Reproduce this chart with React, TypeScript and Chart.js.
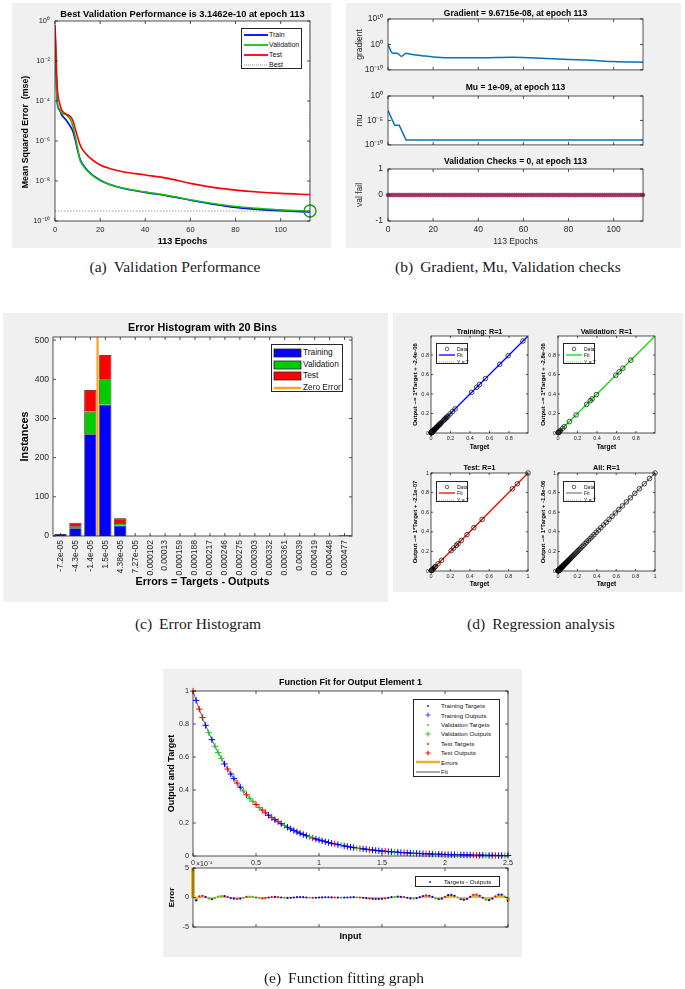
import { useEffect, useRef } from "react"
import { Chart, registerables } from "chart.js"

Chart.register(...registerables)

const SANS = "'Liberation Sans', Arial, Helvetica, sans-serif"
const SERIF = "'Liberation Serif', 'Times New Roman', serif"
const TICK = "#262626"
Chart.defaults.font.family = SANS

// (a) validation performance
const perfEpochs = [0, 1, 2, 3, 5, 7, 8, 9, 10, 11, 12, 15, 20, 25, 30, 40, 50, 60, 70, 80, 90, 100, 113]
const perfTrain = [5e-1, 8e-5, 3.5e-5, 2e-5, 1.1e-5, 5e-6, 2.9e-6, 1.1e-6, 3.5e-7, 1.35e-7, 7.6e-8, 2.9e-8, 1.1e-8, 6.3e-9, 4.3e-9, 2.7e-9, 1.8e-9, 1.1e-9, 7e-10, 4.8e-10, 3.8e-10, 3.3e-10, 2.8e-10]
const perfValidation = [5e-1, 9e-5, 4e-5, 2.5e-5, 2e-5, 1.1e-5, 5e-6, 1.6e-6, 4.5e-7, 1.2e-7, 7e-8, 2.7e-8, 1.05e-8, 6.3e-9, 4.5e-9, 2.8e-9, 1.9e-9, 1.15e-9, 7.5e-10, 5.3e-10, 4.3e-10, 3.6e-10, 3.1462e-10]
const perfTest = [6.3e-1, 5e-4, 8e-5, 3.5e-5, 2.2e-5, 1.6e-5, 1e-5, 4e-6, 1.6e-6, 7e-7, 4e-7, 1.6e-7, 6.3e-8, 4e-8, 2.9e-8, 2e-8, 1.35e-8, 7.6e-9, 4.8e-9, 3.5e-9, 2.8e-9, 2.4e-9, 2.1e-9]
const bestEpoch = 113
const bestValidation = 3.1462e-10
const perfXTicks = [0, 20, 40, 60, 80, 100]
const perfYTicks = [1e-10, 1e-8, 1e-6, 1e-4, 1e-2, 1]

// (b) gradient, mu, validation checks
const gradEpochs = [0, 2, 4, 6, 8, 10, 15, 20, 30, 40, 55, 70, 80, 90, 100, 113]
const gradValues = [0.9, 3.5e-4, 3.5e-4, 2e-5, 3.5e-4, 1.3e-4, 4e-5, 1.26e-5, 5.4e-6, 5.4e-6, 9.3e-6, 3.2e-6, 1.3e-6, 5.7e-7, 1.9e-7, 9.6715e-8]
const muEpochs = [0, 1, 2, 3, 5, 6, 7, 8, 113]
const muValues = [1e-3, 1e-4, 1e-5, 1e-6, 1e-6, 1e-7, 1e-8, 1e-9, 1e-9]
const valFailChecks = [
  0, 0, 0, 0, 0, 0, 0, 0, 0, 0,
  0, 0, 0, 0, 0, 0, 0, 0, 0, 0,
  0, 0, 0, 0, 0, 0, 0, 0, 0, 0,
  0, 0, 0, 0, 0, 0, 0, 0, 0, 0,
  0, 0, 0, 0, 0, 0, 0, 0, 0, 0,
  0, 0, 0, 0, 0, 0, 0, 0, 0, 0,
  0, 0, 0, 0, 0, 0, 0, 0, 0, 0,
  0, 0, 0, 0, 0, 0, 0, 0, 0, 0,
  0, 0, 0, 0, 0, 0, 0, 0, 0, 0,
  0, 0, 0, 0, 0, 0, 0, 0, 0, 0,
  0, 0, 0, 0, 0, 0, 0, 0, 0, 0,
  0, 0, 0, 0,
]
const gradYTicks = [1e-10, 1, 1e10]
const muYTicks = [1e-10, 1e-5, 1]
const valYTicks = [-1, 0, 1]

// (c) error histogram
const binLabels = ["-7.2e-05", "-4.3e-05", "-1.4e-05", "1.5e-05", "4.38e-05", "7.27e-05", "0.000102", "0.00013", "0.000159", "0.000188",
  "0.000217", "0.000246", "0.000275", "0.000303", "0.000332", "0.000361", "0.00039", "0.000419", "0.000448", "0.000477"]
const histTraining = [5, 20, 260, 335, 27, 0, 0, 0, 0, 0, 0, 0, 0, 0, 0, 0, 0, 0, 0, 2]
const histValidation = [0, 5, 57, 65, 6, 0, 0, 0, 0, 0, 0, 0, 0, 0, 0, 0, 0, 0, 0, 0]
const histTest = [0, 9, 56, 62, 12, 0, 0, 0, 0, 0, 0, 0, 0, 0, 0, 0, 0, 0, 0, 0]
const zeroErrorBin = 2.48
const histMax = 508
const histYTicks = [0, 100, 200, 300, 400, 500]
const binIndex = binLabels.map((_, i) => i)

// (e) function fit samples, also used by (d)
const fitInput = [
  0, 0.025, 0.05, 0.075, 0.1, 0.125, 0.15, 0.175, 0.2, 0.225,
  0.25, 0.275, 0.3, 0.325, 0.35, 0.375, 0.4, 0.425, 0.45, 0.475,
  0.5, 0.525, 0.55, 0.575, 0.6, 0.625, 0.65, 0.675, 0.7, 0.725,
  0.75, 0.775, 0.8, 0.825, 0.85, 0.875, 0.9, 0.925, 0.95, 0.975,
  1, 1.025, 1.05, 1.075, 1.1, 1.125, 1.15, 1.175, 1.2, 1.225,
  1.25, 1.275, 1.3, 1.325, 1.35, 1.375, 1.4, 1.425, 1.45, 1.475,
  1.5, 1.525, 1.55, 1.575, 1.6, 1.625, 1.65, 1.675, 1.7, 1.725,
  1.75, 1.775, 1.8, 1.825, 1.85, 1.875, 1.9, 1.925, 1.95, 1.975,
  2, 2.025, 2.05, 2.075, 2.1, 2.125, 2.15, 2.175, 2.2, 2.225,
  2.25, 2.275, 2.3, 2.325, 2.35, 2.375, 2.4, 2.425, 2.45, 2.475,
  2.5,
]
const fitTarget = [
  1, 0.943, 0.89, 0.839, 0.792, 0.747, 0.705, 0.665, 0.627, 0.592,
  0.558, 0.527, 0.497, 0.469, 0.442, 0.417, 0.394, 0.371, 0.35, 0.331,
  0.312, 0.294, 0.278, 0.262, 0.247, 0.233, 0.22, 0.208, 0.196, 0.185,
  0.174, 0.164, 0.155, 0.146, 0.138, 0.13, 0.123, 0.116, 0.109, 0.103,
  0.097, 0.092, 0.087, 0.082, 0.077, 0.073, 0.069, 0.065, 0.061, 0.058,
  0.054, 0.051, 0.048, 0.046, 0.043, 0.041, 0.038, 0.036, 0.034, 0.032,
  0.03, 0.029, 0.027, 0.026, 0.024, 0.023, 0.021, 0.02, 0.019, 0.018,
  0.017, 0.016, 0.015, 0.014, 0.013, 0.013, 0.012, 0.011, 0.011, 0.01,
  0.009, 0.009, 0.008, 0.008, 0.007, 0.007, 0.007, 0.006, 0.006, 0.006,
  0.005, 0.005, 0.005, 0.004, 0.004, 0.004, 0.004, 0.003, 0.003, 0.003,
  0.003,
]
// targets - outputs, in units of 1e-4
const errorE4 = [
  5, -0.5, 0.2, 0.3, 0.1, -0.2, -0.3, -0.1, 0.15, 0.25,
  0.25, 0.1, -0.1, -0.2, -0.25, -0.2, -0.05, 0.1, 0.15, 0.1,
  0, -0.1, -0.15, -0.1, 0, 0.08, 0.1, 0.08, 0, -0.06,
  -0.08, -0.06, 0, 0.05, 0.07, 0.05, 0, -0.04, -0.05, -0.04,
  0, 0.02, 0.04, 0.04, 0.02, 0, -0.02, -0.03, -0.02, 0,
  0.03, 0.05, 0.04, 0, -0.05, -0.12, -0.18, -0.22, -0.25, -0.25,
  -0.22, -0.15, -0.05, 0.05, 0.12, 0.15, 0.12, 0.05, -0.05, -0.15,
  -0.2, -0.12, 0.05, 0.25, 0.35, 0.3, 0.1, -0.15, -0.3, -0.2,
  0.1, 0.4, 0.45, 0.3, 0, -0.3, -0.4, -0.25, 0.1, 0.45,
  0.5, 0.3, -0.05, -0.4, -0.45, -0.2, 0.2, 0.5, 0.5, 0.15,
  -0.6,
]
// T = training, V = validation, S = test
const fitSet = "STSSTVTVVV TSTTSTVSVV SVSSTSTSTV TTTTTTTVST TTTTTSTVTT TTVSTTSTTT TSTTVTTSTT VTTTSTTVTT STTTVTTTTS STTVTTSTTV T"
  .replace(/ /g, "")
  .split("")
const fitXTicks = [0, 0.5, 1, 1.5, 2, 2.5]
const fitYTicks = [0, 0.2, 0.4, 0.6, 0.8, 1]
const errYTicks = [-5, 0, 5]

// (d) regression
const regTitles = ["Training: R=1", "Validation: R=1", "Test: R=1", "All: R=1"]
const regYLabels = ["Output ~= 1*Target + -2.4e-06", "Output ~= 1*Target + -2.8e-06", "Output ~= 1*Target + -2.1e-07", "Output ~= 1*Target + -1.8e-06"]
const regIntercepts = [-2.4e-6, -2.8e-6, -2.1e-7, -1.8e-6]
const regSets = ["T", "V", "S", ""]
const regMax = [0.995, 0.995, 1, 1]
const regColors = ["#0000ff", "#00dd00", "#ff0000", "#808080"]
const regTicksShort = [0, 0.2, 0.4, 0.6, 0.8]
const regTicksFull = [0, 0.2, 0.4, 0.6, 0.8, 1]

const SUP: Record<string, string> = { "0": "⁰", "1": "¹", "2": "²", "3": "³", "4": "⁴", "5": "⁵", "6": "⁶", "7": "⁷", "8": "⁸", "9": "⁹", "-": "⁻" }
function pow10(v: any) {
  const e = Math.round(Math.log10(Number(v)))
  return "10" + String(e).split("").map((c) => SUP[c]).join("")
}
function plain(v: any) {
  return String(Math.round(Number(v) * 1e6) / 1e6)
}
const pts = (xs: number[], ys: number[]) => xs.map((x, i) => ({ x, y: ys[i] }))
const indexesOf = (code: string) => fitInput.map((_, i) => i).filter((i) => code === "" || fitSet[i] === code)

// white plot area, box and inward ticks on all four sides
const boxPlugin = {
  id: "box",
  beforeDraw(chart: any) {
    const { ctx, chartArea: a } = chart
    ctx.save()
    ctx.fillStyle = "#ffffff"
    ctx.fillRect(a.left, a.top, a.right - a.left, a.bottom - a.top)
    ctx.restore()
  },
  afterDatasetsDraw(chart: any, _args: any, opts: any) {
    const { ctx, chartArea: a, scales } = chart
    const len = opts.tick ?? 3
    ctx.save()
    ctx.strokeStyle = TICK
    ctx.lineWidth = 0.8
    ctx.beginPath()
    scales.x.ticks.forEach((_t: any, i: number) => {
      const p = scales.x.getPixelForTick(i)
      ctx.moveTo(p, a.bottom)
      ctx.lineTo(p, a.bottom - len)
      ctx.moveTo(p, a.top)
      ctx.lineTo(p, a.top + len)
    })
    scales.y.ticks.forEach((_t: any, i: number) => {
      const p = scales.y.getPixelForTick(i)
      ctx.moveTo(a.left, p)
      ctx.lineTo(a.left + len, p)
      ctx.moveTo(a.right, p)
      ctx.lineTo(a.right - len, p)
    })
    ctx.stroke()
    ctx.strokeRect(a.left, a.top, a.right - a.left, a.bottom - a.top)
    ctx.restore()
  },
}
Chart.register(boxPlugin)

function line(color: string, width = 1.6) {
  return { borderColor: color, backgroundColor: color, borderWidth: width, pointRadius: 0, fill: false, cubicInterpolationMode: "monotone" }
}

function axis(o: any) {
  const size = o.labelSize ?? 9
  const lh = size * 1.2
  const pad = (o.labelPos ?? 0) - lh / 2
  return {
    type: o.type ?? "linear",
    min: o.min,
    max: o.max,
    offset: false,
    afterBuildTicks: o.ticks ? (s: any) => { s.ticks = o.ticks.map((v: number) => ({ value: v })) } : undefined,
    afterFit: (s: any) => { if (s.isHorizontal()) s.height = o.size; else s.width = o.size },
    grid: { display: false, drawTicks: false, offset: false },
    border: { display: false },
    ticks: {
      display: o.showLabels !== false,
      padding: o.pad ?? 3,
      font: { size: o.font ?? 8 },
      color: TICK,
      callback: o.fmt ?? plain,
      autoSkip: false,
      maxRotation: o.rotate ?? 0,
      minRotation: o.rotate ?? 0,
    },
    title: o.label
      ? { display: true, text: o.label, color: o.labelBold === false ? TICK : "#000", font: { size, weight: o.labelBold === false ? "normal" : "bold", lineHeight: 1.2 }, padding: { top: pad, bottom: pad } }
      : { display: false },
  }
}

function frame(f: any, scales: any) {
  const size = f.titleSize ?? 9
  const lh = size * 1.2
  return {
    animation: false,
    responsive: false,
    events: [],
    layout: { padding: { left: 0, right: f.W - f.R, top: f.title ? 0 : f.T, bottom: 0 } },
    plugins: {
      legend: { display: false },
      tooltip: { enabled: false },
      box: { tick: f.tick ?? 3 },
      title: f.title
        ? { display: true, text: f.title, fullSize: false, color: "#000", font: { size, weight: "bold", lineHeight: 1.2 }, padding: { top: f.titleCenter - lh / 2, bottom: f.T - f.titleCenter - lh / 2 } }
        : { display: false },
    },
    scales,
  }
}

function perfConfig() {
  return {
    type: "line",
    data: {
      datasets: [
        { data: [{ x: bestEpoch, y: bestValidation }], showLine: false, pointRadius: 6, pointBorderWidth: 1.4, pointBorderColor: "#14a014", pointBackgroundColor: "transparent", clip: false },
        { data: pts(perfEpochs, perfTest), ...line("#ff0000") },
        { data: pts(perfEpochs, perfValidation), ...line("#10c010") },
        { data: pts(perfEpochs, perfTrain), ...line("#0000ff") },
        { data: [{ x: 0, y: bestValidation }, { x: bestEpoch, y: bestValidation }], ...line("#888888", 0.8), borderDash: [1.5, 1.5] },
        { data: [{ x: bestEpoch, y: 1e-10 }, { x: bestEpoch, y: 1 }], ...line("#888888", 0.8), borderDash: [1.5, 1.5] },
      ],
    },
    options: frame({ W: 319, R: 298, T: 18, title: "Best Validation Performance is 3.1462e-10 at epoch 113", titleSize: 9.3, titleCenter: 11 }, {
      x: axis({ min: 0, max: 113, ticks: perfXTicks, size: 27, pad: 4.5, font: 7.5, label: "113 Epochs", labelSize: 9, labelPos: 6 }),
      y: axis({ type: "logarithmic", min: 1e-10, max: 1, ticks: perfYTicks, size: 43, pad: 5, font: 7.5, fmt: pow10, label: "Mean Squared Error  (mse)         ", labelSize: 8.8, labelPos: 14 }),
    }),
  }
}

function gradConfig() {
  return {
    type: "line",
    data: { datasets: [{ data: pts(gradEpochs, gradValues), ...line("#0072bd", 1.5) }] },
    options: frame({ W: 335, R: 297, T: 16, title: "Gradient = 9.6715e-08, at epoch 113", titleSize: 8.5, titleCenter: 11 }, {
      x: axis({ min: 0, max: 113, ticks: perfXTicks, size: 6, showLabels: false }),
      y: axis({ type: "logarithmic", min: 1e-10, max: 1e10, ticks: gradYTicks, size: 42, pad: 5, font: 8.5, fmt: pow10, label: "gradient", labelSize: 8.5, labelBold: false, labelPos: 14 }),
    }),
  }
}

function muConfig() {
  return {
    type: "line",
    data: { datasets: [{ data: pts(muEpochs, muValues), ...line("#0072bd", 1.5), cubicInterpolationMode: "default", tension: 0 }] },
    options: frame({ W: 335, R: 297, T: 16, title: "Mu = 1e-09, at epoch 113", titleSize: 8.5, titleCenter: 8 }, {
      x: axis({ min: 0, max: 113, ticks: perfXTicks, size: 7, showLabels: false }),
      y: axis({ type: "logarithmic", min: 1e-10, max: 1, ticks: muYTicks, size: 42, pad: 5, font: 8.5, fmt: pow10, label: "mu", labelSize: 8.5, labelBold: false, labelPos: 14 }),
    }),
  }
}

function valConfig() {
  return {
    type: "line",
    data: {
      datasets: [{
        data: valFailChecks.map((v, epoch) => ({ x: epoch, y: v })),
        borderColor: "#d0103a", borderWidth: 1.5, pointRadius: 2, pointBackgroundColor: "#d01848", pointBorderColor: "#6a5a98", pointBorderWidth: 0.5, clip: false,
      }],
    },
    options: frame({ W: 335, R: 297, T: 14, title: "Validation Checks = 0, at epoch 113", titleSize: 8.5, titleCenter: 7 }, {
      x: axis({ min: 0, max: 113, ticks: perfXTicks, size: 27, pad: 3.9, font: 8.5, label: "113 Epochs", labelSize: 8.5, labelBold: false, labelPos: 6 }),
      y: axis({ min: -1, max: 1, ticks: valYTicks, size: 42, pad: 5, font: 8.5, label: "val fail", labelSize: 8.5, labelBold: false, labelPos: 14 }),
    }),
  }
}

function histConfig() {
  const bar = (counts: number[], color: string) => ({
    type: "bar", data: pts(binIndex, counts), backgroundColor: color, borderColor: "#1a1a1a", borderWidth: 0.8,
    barPercentage: 0.82, categoryPercentage: 1, grouped: false,
  })
  return {
    type: "bar",
    data: {
      datasets: [
        { type: "line", data: [{ x: zeroErrorBin, y: 0 }, { x: zeroErrorBin, y: histMax }], borderColor: "#ffa31a", borderWidth: 2.2, pointRadius: 0 },
        bar(histTraining, "#0000ff"),
        bar(histValidation, "#00cc00"),
        bar(histTest, "#ff0000"),
      ],
    },
    options: frame({ W: 385, R: 349, T: 24, title: "Error Histogram with 20 Bins", titleSize: 10.8, titleCenter: 15 }, {
      x: { ...axis({ min: -0.5, max: 19.5, ticks: binIndex, size: 66, pad: 4, font: 8.5, rotate: 90, fmt: (v: any) => binLabels[Math.round(Number(v))], label: "Errors = Targets - Outputs", labelSize: 10.8, labelPos: 20 }), stacked: true },
      y: { ...axis({ min: 0, max: histMax, ticks: histYTicks, size: 50, pad: 4, font: 8.6, label: "Instances", labelSize: 10.8, labelPos: 22 }), stacked: true },
    }),
  }
}

function regConfig(k: number) {
  const idx = indexesOf(regSets[k])
  const max = regMax[k]
  const b = regIntercepts[k]
  const ticks = k < 2 ? regTicksShort : regTicksFull
  return {
    type: "line",
    data: {
      datasets: [
        { data: idx.map((i) => ({ x: fitTarget[i], y: fitTarget[i] - errorE4[i] * 1e-4 })), showLine: false, pointRadius: 2.3, pointBorderWidth: 0.7, pointBorderColor: "#000", pointBackgroundColor: "transparent", clip: false },
        { data: [{ x: 0, y: b }, { x: max, y: max + b }], ...line(regColors[k], 1.3) },
        { data: [{ x: 0, y: 0 }, { x: max, y: max }], ...line("#999999", 0.8), borderDash: [1.5, 1.5] },
      ],
    },
    options: frame({ W: k % 2 === 0 ? 155 : 163, R: 135, T: 23, title: regTitles[k], titleSize: 7.2, titleCenter: k < 2 ? 19 : 18, tick: 2 }, {
      x: axis({ min: 0, max, ticks, size: k < 2 ? 22 : 21, pad: 2.3, font: 5.5, label: "Target", labelSize: 6.5, labelPos: 7.3 }),
      y: axis({ min: 0, max, ticks, size: 38, pad: 2, font: 5.5, label: regYLabels[k], labelSize: 6, labelPos: 22 + (k % 2) }),
    }),
  }
}
const regTraining = () => regConfig(0)
const regValidation = () => regConfig(1)
const regTest = () => regConfig(2)
const regAll = () => regConfig(3)

const fitGroups = [
  { code: "T", color: "#0000ff" },
  { code: "V", color: "#1ec81e" },
  { code: "S", color: "#ff0000" },
]

function fitConfig() {
  const marks: any[] = []
  fitGroups.forEach((g) => {
    const idx = indexesOf(g.code)
    marks.push({ data: idx.map((i) => ({ x: fitInput[i], y: fitTarget[i] - errorE4[i] * 1e-4 })), showLine: false, pointStyle: "cross", pointRadius: 3.2, pointBorderWidth: 1, pointBorderColor: g.color, clip: false })
    marks.push({ data: idx.map((i) => ({ x: fitInput[i], y: fitTarget[i] })), showLine: false, pointRadius: 0.9, pointBorderWidth: 0, pointBackgroundColor: g.color, clip: false })
  })
  return {
    type: "line",
    data: { datasets: [...marks, { data: pts(fitInput, fitTarget), ...line("#222222", 0.7) }] },
    options: frame({ W: 359, R: 345, T: 22, title: "Function Fit for Output Element 1", titleSize: 9, titleCenter: 14 }, {
      x: axis({ min: 0, max: 2.5, ticks: fitXTicks, size: 14, pad: 2.7, font: 7.2 }),
      y: axis({ min: 0, max: 1, ticks: fitYTicks, size: 30, pad: 4, font: 7.2, label: "Output and Target", labelSize: 9, labelPos: 9 }),
    }),
  }
}

function errConfig() {
  const dots = fitGroups.map((g) => {
    const idx = indexesOf(g.code)
    return { data: idx.map((i) => ({ x: fitInput[i], y: errorE4[i] })), showLine: false, pointRadius: 1.1, pointBorderWidth: 0, pointBackgroundColor: g.color }
  })
  return {
    type: "line",
    data: {
      datasets: [
        ...dots,
        { type: "bar", data: pts(fitInput, errorE4), backgroundColor: "#edb120", borderWidth: 0, barPercentage: 1, categoryPercentage: 1, grouped: false, clip: false },
      ],
    },
    options: frame({ W: 359, R: 345, T: 12 }, {
      x: axis({ min: 0, max: 2.5, ticks: fitXTicks, size: 30, showLabels: false, label: "Input", labelSize: 9, labelPos: 20 }),
      y: axis({ min: -5, max: 5, ticks: errYTicks, size: 30, pad: 4, font: 7.2, label: "Error", labelSize: 8, labelPos: 9 }),
    }),
    plugins: [{
      id: "exponent",
      afterDraw(chart: any) {
        const { ctx, chartArea: a } = chart
        ctx.save()
        ctx.font = `7px ${SANS}`
        ctx.fillStyle = TICK
        ctx.textBaseline = "bottom"
        ctx.fillText("×10⁻⁴", a.left + 3, a.top - 0.5)
        ctx.restore()
      },
    }],
  }
}

function Plot({ left, top, width, height, config }: { left: number; top: number; width: number; height: number; config: () => any }) {
  const ref = useRef<HTMLCanvasElement>(null)
  useEffect(() => {
    if (!ref.current) return
    const chart = new Chart(ref.current, config())
    return () => chart.destroy()
  }, [config])
  return <canvas ref={ref} width={width} height={height} style={{ position: "absolute", left, top, width, height }} />
}

function Swatch({ kind, color, w, weight = 1.8, rectH = 8 }: any) {
  const c = w / 2
  return (
    <svg width={w} height={12} style={{ position: "absolute", left: 0, top: -6, overflow: "visible" }}>
      {kind === "line" && <line x1={0} y1={6} x2={w} y2={6} stroke={color} strokeWidth={weight} />}
      {kind === "dotted" && <line x1={0} y1={6} x2={w} y2={6} stroke={color} strokeWidth={0.8} strokeDasharray="1 1" />}
      {kind === "rect" && <rect x={0} y={6 - rectH / 2} width={w} height={rectH} fill={color} stroke="#262626" strokeWidth={0.8} />}
      {kind === "dot" && <circle cx={c} cy={6} r={0.9} fill={color} />}
      {kind === "plus" && <path d={`M${c - 2.5} 6 H${c + 2.5} M${c} 3.5 V8.5`} stroke={color} strokeWidth={1} />}
      {kind === "circle" && <circle cx={c} cy={6} r={1.8} fill="none" stroke={color} strokeWidth={0.6} />}
    </svg>
  )
}

function Legend({ x, y, w, h, rows, size, first, step, sx, sw, tx, rectH }: any) {
  return (
    <div style={{ position: "absolute", left: x, top: y, width: w, height: h, boxSizing: "border-box", border: "0.8px solid #262626", background: "#fff", fontFamily: SANS, fontSize: size, color: "#111" }}>
      {rows.map((r: any, i: number) => (
        <div key={i} style={{ position: "absolute", left: 0, top: first + i * step, height: 0, width: "100%" }}>
          <div style={{ position: "absolute", left: sx, top: 0 }}>
            <Swatch kind={r.kind} color={r.color} w={sw} weight={r.weight} rectH={rectH} />
          </div>
          <span style={{ position: "absolute", left: tx, top: -size * 0.6, whiteSpace: "nowrap", lineHeight: `${size * 1.2}px` }}>{r.label}</span>
        </div>
      ))}
    </div>
  )
}

const perfLegend = [
  { label: "Train", kind: "line", color: "#0000ff" },
  { label: "Validation", kind: "line", color: "#10c010" },
  { label: "Test", kind: "line", color: "#ff0000" },
  { label: "Best", kind: "dotted", color: "#777" },
]
const histLegend = [
  { label: "Training", kind: "rect", color: "#0000ff" },
  { label: "Validation", kind: "rect", color: "#00cc00" },
  { label: "Test", kind: "rect", color: "#ff0000" },
  { label: "Zero Error", kind: "line", color: "#ffa31a", weight: 2.5 },
]
const regLegend = (color: string) => [
  { label: "Data", kind: "circle", color: "#000" },
  { label: "Fit", kind: "line", color, weight: 1.3 },
  { label: "Y = T", kind: "dotted", color: "#999" },
]
const fitLegend = [
  { label: "Training Targets", kind: "dot", color: "#0000ff" },
  { label: "Training Outputs", kind: "plus", color: "#4040ff" },
  { label: "Validation Targets", kind: "dot", color: "#1ec81e" },
  { label: "Validation Outputs", kind: "plus", color: "#1ec81e" },
  { label: "Test Targets", kind: "dot", color: "#ff0000" },
  { label: "Test Outputs", kind: "plus", color: "#ff0000" },
  { label: "Errors", kind: "line", color: "#edb120", weight: 2.5 },
  { label: "Fit", kind: "line", color: "#222", weight: 0.8 },
]
const errLegend = [{ label: "Targets - Outputs", kind: "dot", color: "#0000ff" }]

function Panel({ x, y, w, h }: any) {
  return <div style={{ position: "absolute", left: x, top: y, width: w, height: h, background: "#f0f0f0" }} />
}

function Caption({ cx, cy, tag, text }: any) {
  return (
    <div style={{ position: "absolute", left: cx - 200, top: cy - 10, width: 400, height: 20, textAlign: "center", fontFamily: SERIF, fontSize: 15.5, lineHeight: "20px", color: "#1a1a1a", whiteSpace: "nowrap" }}>
      <span style={{ marginRight: 7 }}>{tag}</span>
      {text}
    </div>
  )
}

export default function App() {
  return (
    <div style={{ position: "absolute", left: 0, top: 0, width: 685, height: 989, background: "#fff", overflow: "hidden" }}>
      <Panel x={12} y={3} w={319} h={245} />
      <Panel x={346} y={3} w={335} h={245} />
      <Panel x={3} y={313} w={385} h={289} />
      <Panel x={393} y={313} w={290} h={279} />
      <Panel x={163} y={669} w={359} h={288} />

      <Plot left={12} top={3} width={319} height={245} config={perfConfig} />
      <Plot left={346} top={3} width={335} height={77} config={gradConfig} />
      <Plot left={346} top={80} width={335} height={75} config={muConfig} />
      <Plot left={346} top={155} width={335} height={93} config={valConfig} />
      <Plot left={3} top={313} width={385} height={289} config={histConfig} />
      <Plot left={393} top={313} width={155} height={142} config={regTraining} />
      <Plot left={520} top={313} width={163} height={142} config={regValidation} />
      <Plot left={393} top={450} width={155} height={142} config={regTest} />
      <Plot left={520} top={450} width={163} height={142} config={regAll} />
      <Plot left={163} top={669} width={359} height={201} config={fitConfig} />
      <Plot left={163} top={856} width={359} height={101} config={errConfig} />

      <Legend x={241} y={28} w={61} h={41} rows={perfLegend} size={7} first={6} step={10} sx={2} sw={24} tx={27} />
      <Legend x={271} y={344} w={72} h={48} rows={histLegend} size={8.3} first={8} step={11.6} sx={2} sw={27} tx={31} rectH={8} />
      <Legend x={436} y={343} w={32} h={21} rows={regLegend(regColors[0])} size={5} first={4.5} step={6.7} sx={2} sw={16} tx={20} />
      <Legend x={563} y={343} w={32} h={21} rows={regLegend(regColors[1])} size={5} first={4.5} step={6.7} sx={2} sw={16} tx={20} />
      <Legend x={436} y={481} w={32} h={21} rows={regLegend(regColors[2])} size={5} first={4.5} step={6.7} sx={2} sw={16} tx={20} />
      <Legend x={563} y={481} w={32} h={21} rows={regLegend(regColors[3])} size={5} first={4.5} step={6.7} sx={2} sw={16} tx={20} />
      <Legend x={413} y={699} w={87} h={78} rows={fitLegend} size={6.2} first={6} step={9.4} sx={2} sw={24} tx={27} />
      <Legend x={415} y={876} w={85} h={11} rows={errLegend} size={6.2} first={5} step={0} sx={8} sw={12} tx={28} />

      <Caption cx={175} cy={267} tag="(a)" text="Validation Performance" />
      <Caption cx={508} cy={267} tag="(b)" text="Gradient, Mu, Validation checks" />
      <Caption cx={198} cy={624} tag="(c)" text="Error Histogram" />
      <Caption cx={541} cy={624} tag="(d)" text="Regression analysis" />
      <Caption cx={344} cy={978} tag="(e)" text="Function fitting graph" />
    </div>
  )
}
